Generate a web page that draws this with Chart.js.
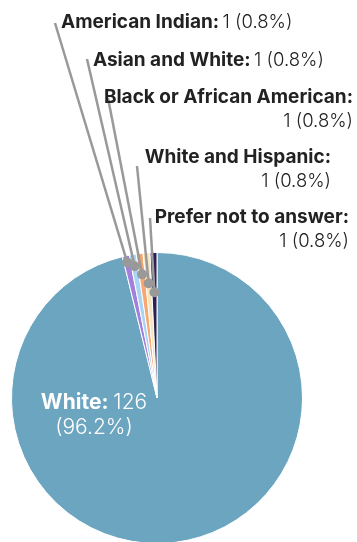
<!DOCTYPE html>
<html>
<head>
<meta charset="utf-8">
<script src="https://cdn.jsdelivr.net/npm/chart.js@4"></script>
<style>
  body { margin: 0; overflow: hidden; background: #fff; }
  #wrap { width: 357px; height: 560px; }
</style>
</head>
<body>
<div id="wrap"><canvas id="myChart"></canvas></div>
<script>
var labels = ["White", "American Indian", "Asian and White", "Black or African American", "White and Hispanic", "Prefer not to answer"];
var counts = [126, 1, 1, 1, 1, 1];
var colors = ["#6ba5c0", "#a37fdc", "#a9d4f4", "#f9a772", "#f6e4bb", "#2f1f55"];

// where each outside label sits: [x, y of first line, align, two lines?, dot depth]
var calloutLayout = [
    null,
    { x: 61, y: 22, align: "left", wrap: false, depth: 0.953, lineEnd: [55, 23] },
    { x: 93, y: 60, align: "left", wrap: false, depth: 0.918, lineEnd: [87, 59] },
    { x: 353, y: 97, align: "right", wrap: true, depth: 0.856, lineEnd: [108, 98] },
    { x: 331, y: 157, align: "right", wrap: true, depth: 0.79, lineEnd: [137, 166] },
    { x: 349, y: 217, align: "right", wrap: true, depth: 0.727, lineEnd: [150, 218] }
];

var boldFont = "700 19px Inter";
var lightFont = "300 18.5px Inter";
var innerBold = "700 21px Inter";
var innerLight = "300 21px Inter";

function pct(v) {
    var total = counts.reduce(function (a, b) { return a + b; }, 0);
    return (v / total * 100).toFixed(1) + "%";
}

var calloutPlugin = {
    id: "callouts",
    afterDatasetsDraw: function (chart) {
        var ctx = chart.ctx;
        var arcs = chart.getDatasetMeta(0).data;
        ctx.save();
        ctx.textBaseline = "middle";

        for (var i = 0; i < arcs.length; i++) {
            var arc = arcs[i];
            var mid = (arc.startAngle + arc.endAngle) / 2;
            var name = labels[i] + ":";
            var value = counts[i] + " (" + pct(counts[i]) + ")";

            if (i === 0) {
                // label inside the big slice
                var lx = 94, ly = 403;
                ctx.font = innerBold;
                var w1 = ctx.measureText(name + " ").width;
                ctx.font = innerLight;
                var w2 = ctx.measureText(counts[i]).width;
                var sx = lx - (w1 + w2) / 2;
                ctx.fillStyle = "#ffffff";
                ctx.textAlign = "left";
                ctx.font = innerBold;
                ctx.fillText(name, sx, ly);
                ctx.font = innerLight;
                ctx.fillText(counts[i], sx + w1, ly);
                ctx.textAlign = "center";
                ctx.fillText("(" + pct(counts[i]) + ")", lx, ly + 25);
                continue;
            }

            var lay = calloutLayout[i];
            var r = arc.outerRadius * lay.depth;
            var px = arc.x + Math.cos(mid) * r;
            var py = arc.y + Math.sin(mid) * r;

            ctx.strokeStyle = "#999999";
            ctx.lineWidth = 2.5;
            ctx.beginPath();
            ctx.moveTo(px, py);
            ctx.lineTo(lay.lineEnd[0], lay.lineEnd[1]);
            ctx.stroke();

            ctx.fillStyle = "#999999";
            ctx.beginPath();
            ctx.arc(px, py, 5, 0, Math.PI * 2);
            ctx.fill();

            ctx.fillStyle = "#222222";
            if (!lay.wrap) {
                ctx.textAlign = "left";
                ctx.font = boldFont;
                ctx.fillText(name, lay.x, lay.y);
                var nw = ctx.measureText(name + " ").width;
                ctx.font = lightFont;
                ctx.fillText(value, lay.x + nw - 1, lay.y);
            } else {
                ctx.textAlign = "right";
                ctx.font = boldFont;
                ctx.fillText(name, lay.x, lay.y);
                ctx.font = lightFont;
                ctx.fillText(value, lay.x, lay.y + 24);
            }
        }
        ctx.restore();
    }
};

var myChart = new Chart(document.getElementById("myChart"), {
    type: "pie",
    data: {
        labels: labels,
        datasets: [{
            data: counts,
            backgroundColor: colors,
            borderColor: "#ffffff",
            borderWidth: 1
        }]
    },
    options: {
        responsive: true,
        maintainAspectRatio: false,
        animation: false,
        layout: { padding: { left: 11, right: 54, top: 252, bottom: 16 } },
        plugins: {
            legend: { display: false },
            tooltip: { enabled: false }
        }
    },
    plugins: [calloutPlugin]
});
</script>
</body>
</html>
